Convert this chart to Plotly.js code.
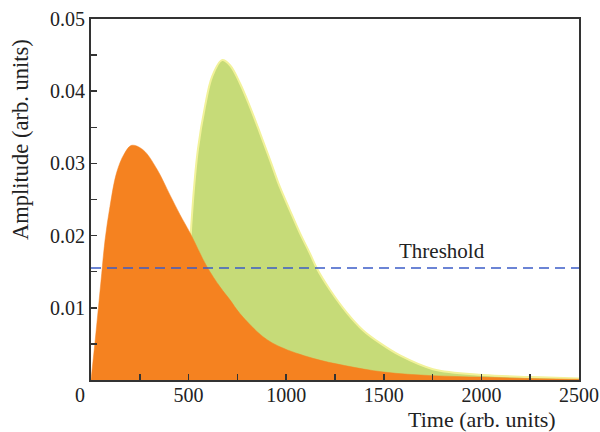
<!DOCTYPE html>
<html>
<head>
<meta charset="utf-8">
<script src="https://cdn.plot.ly/plotly-3.0.1.min.js"></script>
<style>html,body{margin:0;padding:0;background:#fff;}#chart{width:600px;height:432px;}</style>
</head>
<body>
<div id="chart"></div>
<script>
// Orange pulse (earlier)
var orangeT = [0, 20, 38, 55, 72, 97, 131, 170, 208, 266, 338, 405, 456, 507, 594, 661, 712, 763, 881, 968, 1137, 1300, 1500, 1750, 2000, 2250, 2500];
var orangeA = [0, 0.0051, 0.0100, 0.0148, 0.0194, 0.0240, 0.0287, 0.0313, 0.0325, 0.0319, 0.0292, 0.0256, 0.0229, 0.0204, 0.0157, 0.0129, 0.0111, 0.0092, 0.0060, 0.0046, 0.0030, 0.0020, 0.0011, 0.0006, 0.0004, 0.0002, 0.0001];
// Green pulse (delayed)
var greenT = [490, 507, 523, 548, 584, 620, 671, 712, 763, 815, 866, 917, 968, 1019, 1071, 1122, 1158, 1224, 1311, 1393, 1481, 1583, 1752, 2008, 2264, 2500];
var greenA = [0, 0.018, 0.025, 0.032, 0.0379, 0.042, 0.0443, 0.0436, 0.0411, 0.0378, 0.0342, 0.0305, 0.0267, 0.0235, 0.0203, 0.0175, 0.0154, 0.0125, 0.0093, 0.0069, 0.0051, 0.0034, 0.0015, 0.0007, 0.0004, 0.0002];
// Threshold
var thresholdT = [0, 2500];
var thresholdA = [0.0155, 0.0155];
// Ticks
var xTickVals = [0, 250, 500, 750, 1000, 1250, 1500, 1750, 2000, 2250, 2500];
var xTickText = ['', '', '500', '', '1000', '', '1500', '', '2000', '', '2500'];
var yTickVals = [0, 0.005, 0.01, 0.015, 0.02, 0.025, 0.03, 0.035, 0.04, 0.045, 0.05];
var yTickText = ['', '', '0.01', '', '0.02', '', '0.03', '', '0.04', '', '0.05'];

var font = 'Liberation Serif, Times New Roman, serif';
var traces = [
  {x: greenT, y: greenA, type: 'scatter', mode: 'lines', fill: 'tozeroy',
   fillcolor: '#C6DB78', line: {color: '#F2F29A', width: 2, shape: 'spline', smoothing: 1}, hoverinfo: 'none'},
  {x: orangeT, y: orangeA, type: 'scatter', mode: 'lines', fill: 'tozeroy',
   fillcolor: '#F58220', line: {color: '#F58220', width: 0.5, shape: 'spline', smoothing: 1}, hoverinfo: 'none'},
  {x: thresholdT, y: thresholdA, type: 'scatter', mode: 'lines',
   line: {color: '#3B5CC8', width: 1.5, dash: '10px,6px'}, hoverinfo: 'none'}
];
var axisCommon = {
  showgrid: false, zeroline: false, showline: true, mirror: true,
  linecolor: '#333', linewidth: 2, ticks: 'inside', ticklen: 6, tickwidth: 1.5, tickcolor: '#333',
  tickfont: {family: font, size: 20, color: '#222'}
};
var layout = {
  width: 600, height: 432,
  margin: {l: 91, r: 21, t: 19, b: 52},
  paper_bgcolor: '#fff', plot_bgcolor: '#fff',
  showlegend: false,
  xaxis: Object.assign({}, axisCommon, {range: [0, 2500], tickmode: 'array', tickvals: xTickVals, ticktext: xTickText, ticklabelstandoff: -4}),
  yaxis: Object.assign({}, axisCommon, {range: [0, 0.05], tickmode: 'array', tickvals: yTickVals, ticktext: yTickText}),
  annotations: [
    {text: '0', xref: 'paper', yref: 'paper', x: 0, y: 0, xshift: -11, yshift: -2, xanchor: 'center', yanchor: 'top',
     showarrow: false, font: {family: font, size: 20, color: '#222'}},
    {text: 'Time (arb. units)', xref: 'paper', yref: 'paper', x: 0.802, y: 0, xanchor: 'center', yanchor: 'top', yshift: -25,
     showarrow: false, font: {family: font, size: 22, color: '#222'}},
    {text: 'Amplitude (arb. units)', xref: 'paper', yref: 'paper', x: 0, y: 0.665, xshift: -70, textangle: -90,
     xanchor: 'center', yanchor: 'middle', showarrow: false, font: {family: font, size: 22.5, color: '#222'}},
    {text: 'Threshold', xref: 'x', yref: 'y', x: 1800, y: 0.0155, yshift: 17, xanchor: 'center', yanchor: 'middle',
     showarrow: false, font: {family: font, size: 21, color: '#222'}}
  ]
};
Plotly.newPlot('chart', traces, layout, {staticPlot: true});
</script>
</body>
</html>
